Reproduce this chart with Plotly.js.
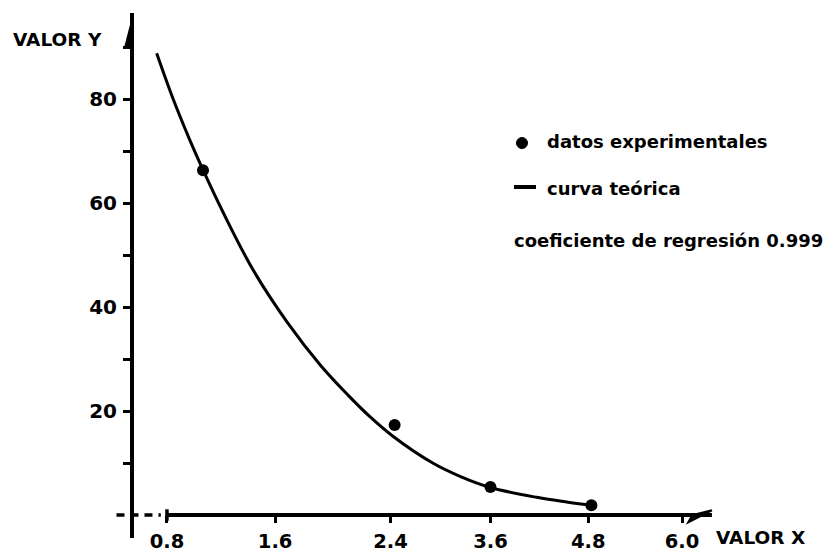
<!DOCTYPE html>
<html>
<head>
<meta charset="utf-8">
<script src="https://cdn.plot.ly/plotly-3.0.1.min.js"></script>
<style>html,body{margin:0;padding:0;background:#fff;}#chart{width:837px;height:553px;}</style>
</head>
<body>
<div id="chart"></div>
<script>
// Tick positions along the (hand-drawn, unevenly labelled) x axis and their labels
const xTickPos = [0, 1.05, 2.17, 3.14, 4.09, 5.0];
const xTickText = ['0.8', '1.6', '2.4', '3.6', '4.8', '6.0'];
const yTickVals = [20, 40, 60, 80];
const yMinorVals = [10, 30, 50, 70, 90];

// datos experimentales
const expX = [0.35, 2.21, 3.14, 4.12];
const expY = [66.3, 17.3, 5.4, 1.9];

// curva teórica
const curveX = [-0.10, 0.06, 0.22, 0.34, 0.56, 0.84, 1.17, 1.49, 1.76, 1.97, 2.19, 2.58, 2.85, 3.14, 3.59, 3.88, 4.11];
const curveY = [88.8, 80.0, 72.2, 66.8, 57.6, 47.0, 37.0, 28.8, 23.0, 18.9, 15.2, 10.0, 7.4, 5.3, 3.4, 2.5, 1.9];

const FONT = 'DejaVu Sans, Arial, sans-serif';
const L = 100, R = 725, T = 13, B = 538;
const px = x => (x - L) / (R - L);
const py = y => (B - y) / (B - T);

const traces = [
  {x: curveX, y: curveY, mode: 'lines', line: {color: '#000', width: 3, shape: 'spline', smoothing: 1}, hoverinfo: 'skip'},
  {x: expX, y: expY, mode: 'markers', marker: {color: '#000', size: 12}, hoverinfo: 'skip'}
];

const txt = (text, x, y, size, xanchor) => ({
  text: text, xref: 'paper', yref: 'paper', x: px(x), y: py(y),
  xanchor: xanchor || 'left', yanchor: 'middle', showarrow: false,
  font: {family: FONT, size: size, color: '#000', weight: 'bold'}
});

const layout = {
  width: 837, height: 553,
  margin: {l: L, r: 837 - R, t: T, b: 553 - B},
  paper_bgcolor: '#fff', plot_bgcolor: '#fff',
  showlegend: false, hovermode: false,
  xaxis: {
    range: [-0.65, 5.417], anchor: 'free', position: (B - 515) / (B - T),
    showgrid: false, zeroline: false, showline: false,
    tickmode: 'array', tickvals: xTickPos, ticktext: xTickText,
    ticks: 'outside', ticklen: 7, tickwidth: 3, tickcolor: '#000',
    ticklabelstandoff: 2,
    tickfont: {family: FONT, size: 19.5, color: '#000', weight: 'bold'}
  },
  yaxis: {
    range: [-4.42, 96.54], anchor: 'free', position: px(132),
    showgrid: false, zeroline: false, showline: true, linewidth: 4, linecolor: '#000',
    tickmode: 'array', tickvals: yTickVals, ticktext: yTickVals.map(String),
    ticks: 'outside', ticklen: 7, tickwidth: 3, tickcolor: '#000',
    ticklabelstandoff: 2,
    tickfont: {family: FONT, size: 20, color: '#000', weight: 'bold'},
    minor: {tickmode: 'array', tickvals: yMinorVals, ticks: 'outside', ticklen: 7, tickwidth: 3, tickcolor: '#000', showgrid: false}
  },
  shapes: [
    // solid x axis
    {type: 'line', xref: 'x', yref: 'y', x0: 0, x1: 5.29, y0: 0, y1: 0, line: {color: '#000', width: 4}},
    // dashed part left of 0.8
    {type: 'line', xref: 'x', yref: 'y', x0: -0.49, x1: -0.06, y0: 0, y1: 0, line: {color: '#000', width: 3.5, dash: '8px,6px'}},
    // start bar at 0.8
    {type: 'line', xref: 'x', yref: 'y', x0: 0, x1: 0, y0: -1.1, y1: 1.1, line: {color: '#000', width: 3.5}},
    // x arrow barb
    {type: 'path', xref: 'x', yref: 'y', path: 'M 5.29,0.9 L 5.06,-1.4 L 5.10,0 Z', fillcolor: '#000', line: {color: '#000', width: 2}},
    // y arrow barb
    {type: 'path', xref: 'x', yref: 'y', path: 'M -0.34,95.0 L -0.40,90.4 L -0.34,90.4 Z', fillcolor: '#000', line: {color: '#000', width: 2}},
    // legend symbols
    {type: 'circle', xref: 'paper', yref: 'paper', x0: px(516.5), x1: px(527.5), y0: py(148.5), y1: py(137.5), fillcolor: '#000', line: {color: '#000', width: 1}},
    {type: 'line', xref: 'paper', yref: 'paper', x0: px(514), x1: px(536), y0: py(187), y1: py(187), line: {color: '#000', width: 4}}
  ],
  annotations: [
    txt('VALOR Y', 57, 39, 18.5, 'center'),
    txt('VALOR X', 760, 537, 18.5, 'center'),
    txt('datos experimentales', 545, 142, 18),
    txt('curva teórica', 545, 188, 18),
    txt('coeficiente de regresión 0.999', 512, 240, 18)
  ]
};

Plotly.newPlot('chart', traces, layout, {staticPlot: true, displayModeBar: false});
</script>
</body>
</html>
